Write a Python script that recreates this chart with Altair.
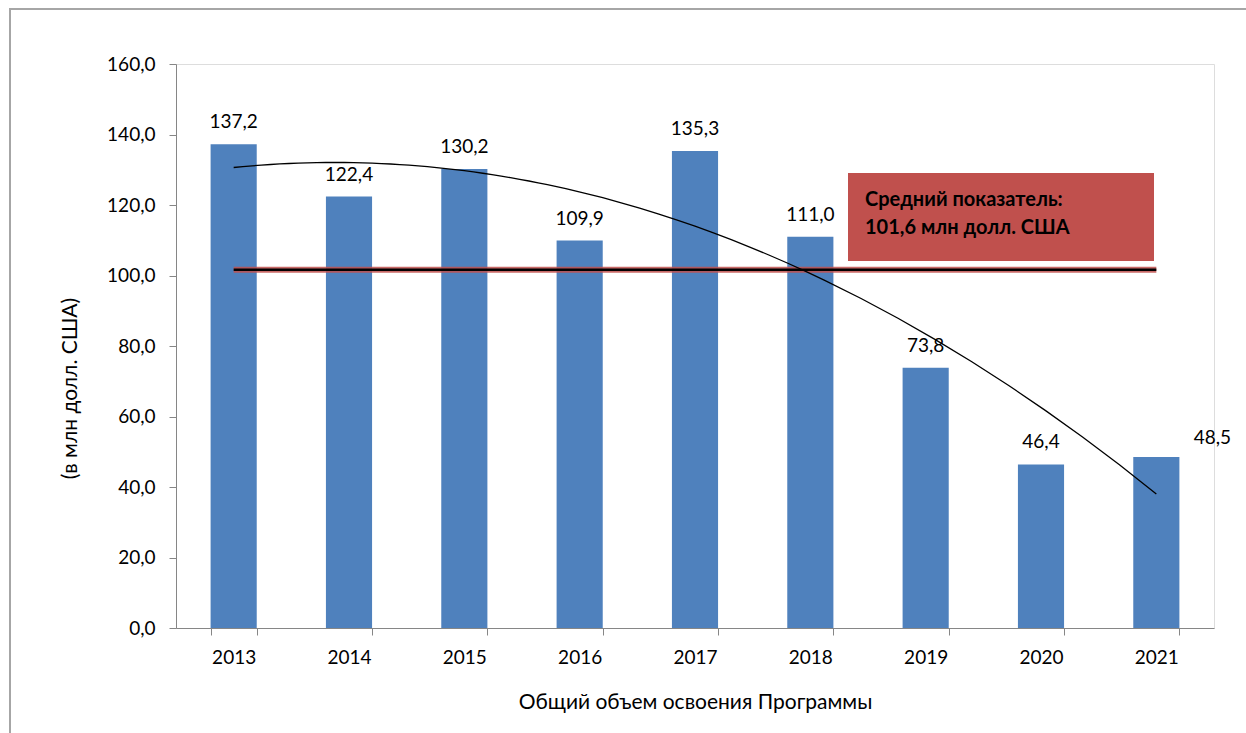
import altair as alt
import pandas as pd

years = [2013, 2014, 2015, 2016, 2017, 2018, 2019, 2020, 2021]
values = [137.2, 122.4, 130.2, 109.9, 135.3, 111.0, 73.8, 46.4, 48.5]
y_ticks = [0, 20, 40, 60, 80, 100, 120, 140, 160]
note_lines = ["Средний показатель:", "101,6 млн долл. США"]
y_title = "(в млн долл. США)"
x_title = "Общий объем освоения Программы"

df = pd.DataFrame({"year": years, "value": values})
FONT = "Lato"
BLUE = "#4F81BD"
RED = "#C0504D"
GRAY = "#868686"

base = alt.Chart(df)

x_band = alt.X(
    "year:O",
    scale=alt.Scale(paddingInner=0.6, paddingOuter=0.3),
    axis=alt.Axis(
        title=x_title, labelAngle=0, tickBand="extent", tickSize=7,
        tickColor=GRAY, domainColor=GRAY, labelFontSize=19, labelPadding=13,
        labelFont=FONT, labelColor="#000000", titleFont=FONT, titleFontSize=21,
        titleFontWeight="normal", titleColor="#000000", titlePadding=24,
    ),
)
y_scale = alt.Scale(domain=[0, 160], nice=False)
y_enc = alt.Y(
    "value:Q", scale=y_scale,
    axis=alt.Axis(
        title=y_title, values=y_ticks, grid=False, tickSize=7, tickColor=GRAY,
        domainColor=GRAY, labelFontSize=19, labelFont=FONT, labelColor="#000000",
        labelPadding=14, labelExpr="replace(format(datum.value, '.1f'), '.', ',')",
        titleFont=FONT, titleFontSize=21, titleFontWeight="normal",
        titleColor="#000000", titleAngle=270, titleX=-106, titleY=324,
        titleAlign="center", titleBaseline="middle",
    ),
)

bars = base.mark_bar(color=BLUE).encode(x=x_band, y=y_enc)

labelled = base.transform_calculate(
    label="replace(format(datum.value, '.1f'), '.', ',')"
)
labels = labelled.transform_filter("datum.year != 2021").mark_text(
    font=FONT, fontSize=19, baseline="middle", dy=-22, color="#000000"
).encode(x=alt.X("year:O"), y=alt.Y("value:Q"), text="label:N")
label_last = labelled.transform_filter("datum.year == 2021").mark_text(
    font=FONT, fontSize=19, baseline="middle", dx=56, dy=-19, color="#000000"
).encode(x=alt.X("year:O"), y=alt.Y("value:Q"), text="label:N")

avg = base.transform_joinaggregate(avg="mean(value)")
avg_red = avg.mark_line(color=RED, strokeWidth=6, opacity=0.85).encode(
    x=alt.X("year:O"), y=alt.Y("avg:Q")
)
avg_black = avg.mark_line(color="#000000", strokeWidth=2.5).encode(
    x=alt.X("year:O"), y=alt.Y("avg:Q")
)

main = alt.layer(bars, labels, label_last, avg_red, avg_black)

trend = base.transform_regression(
    "year", "value", method="poly", order=2
).mark_line(color="#000000", strokeWidth=1.3).encode(
    x=alt.X("year:Q", scale=alt.Scale(domain=[2012.5, 2021.5], nice=False, zero=False), axis=None),
    y=alt.Y("value:Q"),
)

one = alt.Data(values=[{"a": 1}])
note_box = alt.Chart(one).mark_rect(color=RED).encode(
    x=alt.value(672), x2=alt.value(978), y=alt.value(109), y2=alt.value(197)
)
note1 = alt.Chart(one).mark_text(
    font=FONT, fontSize=20, fontWeight="bold", align="left", baseline="middle",
    color="#000000", text=note_lines[0]
).encode(x=alt.value(689), y=alt.value(136))
note2 = alt.Chart(one).mark_text(
    font=FONT, fontSize=20, fontWeight="bold", align="left", baseline="middle",
    color="#000000", text=note_lines[1]
).encode(x=alt.value(689), y=alt.value(164))

frame = alt.Chart(one).mark_rect(fill=None, stroke="#A6A6A6", strokeWidth=2).encode(
    x=alt.value(-166), x2=alt.value(1100), y=alt.value(-55), y2=alt.value(700)
)

chart = alt.layer(
    frame, main, trend, note_box, note1, note2
).resolve_scale(x="independent").properties(
    width=1038, height=564,
    autosize=alt.AutoSizeParams(type="none"),
    padding={"left": 176, "top": 64, "right": 32, "bottom": 105},
).configure_view(stroke=None).configure(background="white")

chart.save("out.html", embed_options={"renderer": "svg", "actions": False})
